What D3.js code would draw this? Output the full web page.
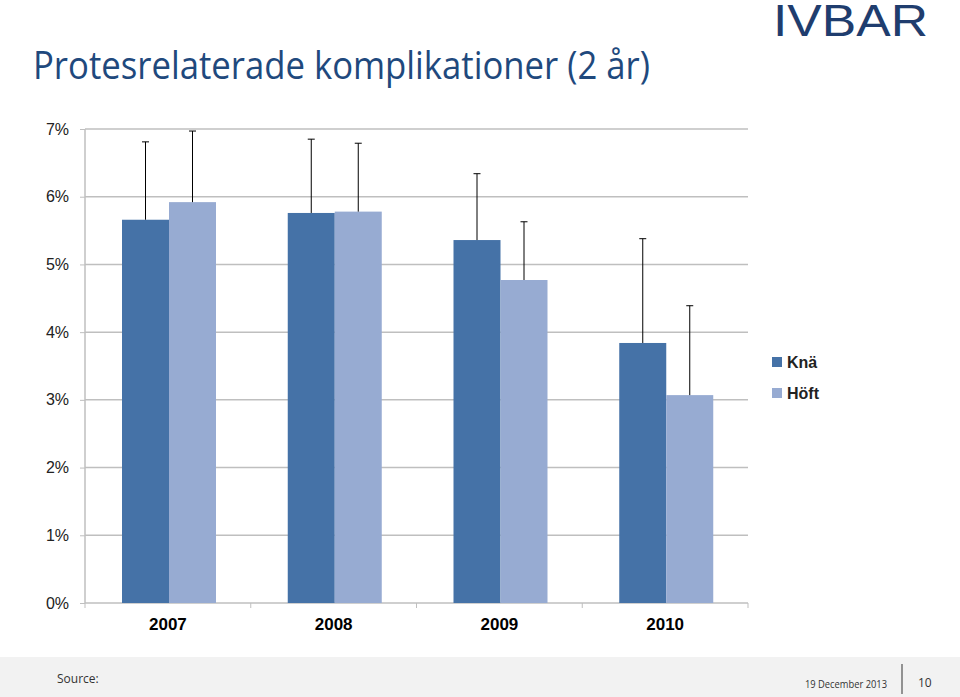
<!DOCTYPE html>
<html><head><meta charset="utf-8">
<script src="https://cdn.jsdelivr.net/npm/d3@7"></script>
<style>body{margin:0;background:#fff}</style></head>
<body><svg id="c" width="960" height="697"></svg>
<script>
const years = ["2007","2008","2009","2010"];
const seriesNames = ["Knä","Höft"];
const knee = [5.66,5.76,5.36,3.84];
const hip = [5.92,5.78,4.77,3.07];
const kneeErr = [6.81,6.85,6.34,5.38];
const hipErr = [6.97,6.79,5.63,4.39];
const yTicks = [0,1,2,3,4,5,6,7];
const colors = ["#4572a7","#97abd2"];

const svg = d3.select("#c");
const cond = "'Liberation Sans Narrow','Open Sans',sans-serif";
svg.append("rect").attr("x",0).attr("y",657).attr("width",960).attr("height",40).attr("fill","#f2f2f2");
svg.append("text").attr("x",33).attr("y",79).attr("font-family",cond).attr("font-size",38).attr("fill","#1f497d").attr("textLength",617).attr("lengthAdjust","spacingAndGlyphs").text("Protesrelaterade komplikationer (2 år)");
svg.append("text").attr("x",773).attr("y",36).attr("font-family","'Liberation Sans',Arial,sans-serif").attr("font-size",44).attr("fill","#1f3d6e").attr("textLength",155).attr("lengthAdjust","spacingAndGlyphs").text("IVBAR");
svg.append("text").attr("x",57).attr("y",683).attr("font-family",cond).attr("font-size",12).attr("fill","#333").text("Source:");
svg.append("text").attr("x",805).attr("y",688).attr("font-family",cond).attr("font-size",11).attr("fill","#333").attr("textLength",82).attr("lengthAdjust","spacingAndGlyphs").text("19 December 2013");
svg.append("line").attr("x1",902).attr("x2",902).attr("y1",664).attr("y2",694).attr("stroke","#333");
svg.append("text").attr("x",918).attr("y",687).attr("font-family",cond).attr("font-size",12).attr("fill","#333").text("10");

const x = d3.scaleBand().domain(years).range([85,748]);
const y = d3.scaleLinear().domain([0,7]).range([603,129]);
const g = svg.append("g");
g.selectAll(".grid").data(yTicks).join("line").attr("x1",85).attr("x2",748)
  .attr("y1",d=>y(d)).attr("y2",d=>y(d)).attr("stroke","#bfbfbf").attr("stroke-width",1.5);
g.append("line").attr("x1",85).attr("x2",85).attr("y1",129).attr("y2",603).attr("stroke","#bfbfbf").attr("stroke-width",1.5);
const yAx = g.append("g").attr("transform","translate(85,0)").call(d3.axisLeft(y).tickValues(yTicks).tickFormat(d=>d+"%").tickSize(5));
yAx.select(".domain").remove();
yAx.selectAll("line").attr("stroke","#bfbfbf");
yAx.selectAll("text").attr("font-family","'Liberation Sans',Arial,sans-serif").attr("font-size",16).attr("fill","#222").attr("x",-16);
const xAx = g.append("g").attr("transform","translate(0,603)").call(d3.axisBottom(x).tickSize(5).tickSizeOuter(0));
xAx.select(".domain").remove();
xAx.selectAll("line").attr("stroke","#bfbfbf").attr("transform",function(){return "translate("+(-x.bandwidth()/2)+",0)";});
xAx.selectAll("text").attr("font-family","'Liberation Sans',Arial,sans-serif").attr("font-size",17).attr("font-weight","bold").attr("fill","#000").attr("dy","1.1em");
g.append("line").attr("x1",748).attr("x2",748).attr("y1",603).attr("y2",608).attr("stroke","#bfbfbf");

const bw = 47, off = 37;
const series = [{v:knee,e:kneeErr},{v:hip,e:hipErr}];
series.forEach((s,si)=>{
  years.forEach((yr,i)=>{
    const bx = x(yr)+off+si*bw;
    g.append("rect").attr("x",bx).attr("y",y(s.v[i])).attr("width",bw).attr("height",y(0)-y(s.v[i])).attr("fill",colors[si]);
    const cx = bx+bw/2;
    g.append("line").attr("x1",cx).attr("x2",cx).attr("y1",y(s.v[i])).attr("y2",y(s.e[i])).attr("stroke","#000");
    g.append("line").attr("x1",cx-3.5).attr("x2",cx+3.5).attr("y1",y(s.e[i])).attr("y2",y(s.e[i])).attr("stroke","#000");
  });
});
seriesNames.forEach((n,i)=>{
  svg.append("rect").attr("x",772).attr("y",357+i*31).attr("width",10).attr("height",10).attr("fill",colors[i]);
  svg.append("text").attr("x",787).attr("y",368+i*31).attr("font-family","'Liberation Sans',Arial,sans-serif").attr("font-size",16).attr("font-weight","bold").attr("fill","#222").text(n);
});
</script></body></html>
